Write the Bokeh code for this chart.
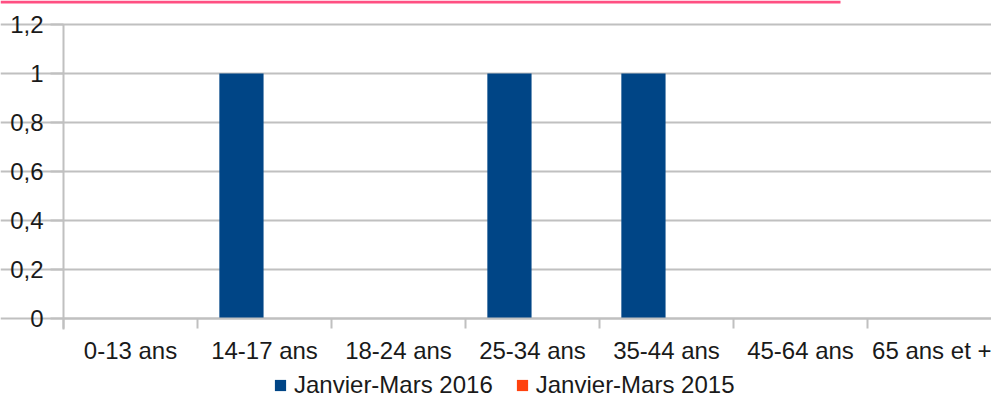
from bokeh.plotting import figure
from bokeh.models import ColumnDataSource, FixedTicker, Range1d, Legend, LegendItem, BoxAnnotation
from bokeh.embed import file_html
from bokeh.resources import INLINE

# ---- data ----
categories = ["0-13 ans", "14-17 ans", "18-24 ans", "25-34 ans", "35-44 ans", "45-64 ans", "65 ans et +"]
series_2016 = [0, 1, 0, 1, 1, 0, 0]
series_2015 = [0, 0, 0, 0, 0, 0, 0]
series_names = ["Janvier-Mars 2016", "Janvier-Mars 2015"]
series_colors = ["#004586", "#ff420e"]
y_tick_values = [0, 0.2, 0.4, 0.6, 0.8, 1.0, 1.2]
y_tick_labels = ["0", "0,2", "0,4", "0,6", "0,8", "1", "1,2"]

FONT = "Liberation Sans"
TXT = "#1a1a1a"
GRID = "#c0c0c0"

n = len(categories)
centers = [i + 0.5 for i in range(n)]
offset = 0.172
bar_w = 0.33

src = ColumnDataSource(dict(
    x16=[c - offset for c in centers],
    x15=[c + offset for c in centers],
    v16=series_2016,
    v15=series_2015,
))

W, H = 991, 399
CAT_PX = 134.0          # pixels per category
LEFT_PX = 63.0          # x pixel of the value axis
Y_PX = 245.0            # pixels per unit of value
ZERO_PX = 318.0         # y pixel of value 0
x0 = -LEFT_PX / CAT_PX
x1 = (W - LEFT_PX) / CAT_PX
y1 = ZERO_PX / Y_PX
y0 = -(H - ZERO_PX) / Y_PX

p = figure(width=W, height=H, output_backend="svg", toolbar_location=None,
           x_range=Range1d(x0, x1), y_range=Range1d(y0, y1),
           min_border_left=0, min_border_right=0, min_border_top=0, min_border_bottom=0)
p.outline_line_color = None
p.background_fill_color = "white"
p.border_fill_color = "white"

r16 = p.vbar(x="x16", top="v16", width=bar_w, bottom=0, source=src,
             fill_color=series_colors[0], line_color=None)
r15 = p.vbar(x="x15", top="v15", width=bar_w, bottom=0, source=src,
             fill_color=series_colors[1], line_color=None)

# x axis: labels at category centers, tick marks at category boundaries
xa = p.xaxis[0]
xa.fixed_location = 0
xa.bounds = (0, x1)
xa.ticker = FixedTicker(ticks=centers, minor_ticks=list(range(n + 1)))
xa.major_label_overrides = {c: lab for c, lab in zip(centers, categories)}
xa.major_tick_out = 0
xa.major_tick_in = 0
xa.minor_tick_out = 10
xa.minor_tick_in = 0
xa.minor_tick_line_color = GRID
xa.minor_tick_line_width = 2
xa.axis_line_color = GRID
xa.axis_line_width = 2
xa.major_label_text_font = FONT
xa.major_label_text_font_size = "24px"
xa.major_label_text_color = TXT
xa.major_label_standoff = 8

ya = p.yaxis[0]
ya.fixed_location = 0
ya.bounds = (-0.045, 1.2)
ya.ticker = FixedTicker(ticks=y_tick_values)
ya.major_label_overrides = {v: lab for v, lab in zip(y_tick_values, y_tick_labels)}
ya.major_tick_out = 13
ya.major_tick_in = 0
ya.major_tick_line_color = GRID
ya.major_tick_line_width = 2
ya.minor_tick_line_color = None
ya.axis_line_color = GRID
ya.axis_line_width = 2
ya.major_label_text_font = FONT
ya.major_label_text_font_size = "24px"
ya.major_label_text_color = TXT
ya.major_label_standoff = 7

p.xgrid.grid_line_color = None
p.ygrid.grid_line_color = GRID
p.ygrid.grid_line_width = 2
p.ygrid.bounds = (0, x1)

# underline of the (cropped) title at the very top
p.add_layout(BoxAnnotation(left=x0, right=(840 - LEFT_PX) / CAT_PX,
                           top=y1, bottom=y1 - 3 / Y_PX,
                           fill_color="#ff4f82", fill_alpha=1, line_color=None))

legend = Legend(items=[LegendItem(label=series_names[0], renderers=[r16]),
                       LegendItem(label=series_names[1], renderers=[r15])],
                location=(273, 0), orientation="horizontal",
                background_fill_alpha=0, border_line_color=None,
                padding=0, margin=0, spacing=22,
                glyph_width=14, glyph_height=14, label_standoff=7,
                label_text_font=FONT, label_text_font_size="24px",
                label_text_color=TXT, label_height=26)
p.add_layout(legend, "center")

open("out.html", "w").write(file_html(p, INLINE))
